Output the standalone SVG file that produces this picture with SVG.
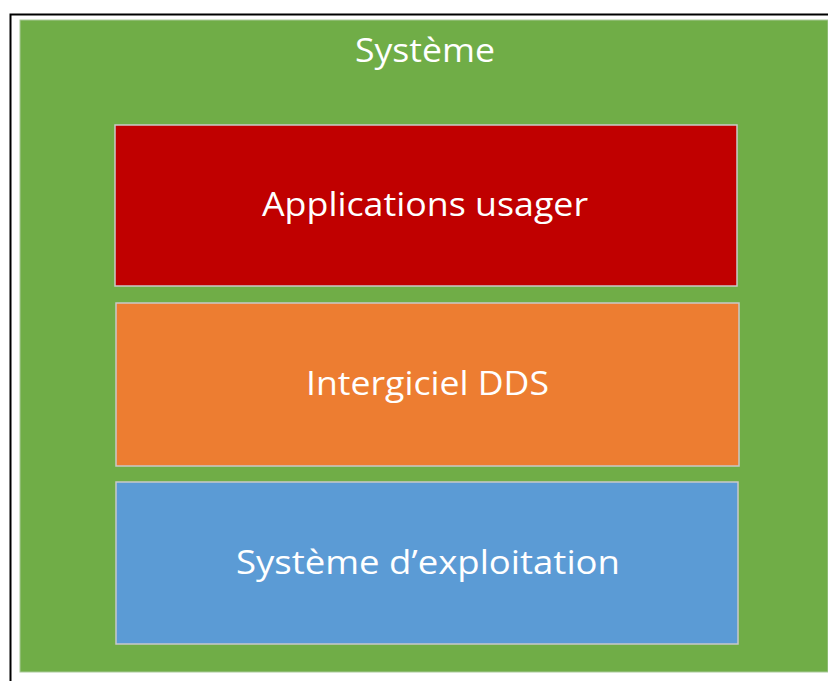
<svg xmlns="http://www.w3.org/2000/svg" width="828" height="681" viewBox="0 0 828 681">
<style>
.t{font-family:"Open Sans","Liberation Sans",sans-serif;fill:#fff;text-anchor:middle;font-size:32px}
.b{stroke:#c9c9c9;stroke-width:1.5}
</style>
<rect width="828" height="681" fill="#fff"/>
<g id="frame">
<path d="M10.5 681 V14.5 H828" fill="none" stroke="#000" stroke-width="2"/>
</g>
<g id="systeme">
<rect x="20" y="20" width="808" height="652" fill="#70ad47" stroke="#a9c99a" stroke-width="1"/>
<text class="t" x="425" y="62" textLength="140" lengthAdjust="spacingAndGlyphs">Système</text>
</g>
<g id="applications">
<rect class="b" x="115" y="125" width="622" height="161" fill="#c00000"/>
<text class="t" x="425" y="216" textLength="326" lengthAdjust="spacingAndGlyphs">Applications usager</text>
</g>
<g id="intergiciel">
<rect class="b" x="116" y="303" width="623" height="163" fill="#ed7d31"/>
<text class="t" x="427.5" y="395" textLength="243" lengthAdjust="spacingAndGlyphs">Intergiciel DDS</text>
</g>
<g id="os">
<rect class="b" x="116" y="482" width="622" height="162" fill="#5b9bd5"/>
<text class="t" x="428" y="574" textLength="384" lengthAdjust="spacingAndGlyphs">Système d’exploitation</text>
</g>
<g id="connectors"/>
</svg>
